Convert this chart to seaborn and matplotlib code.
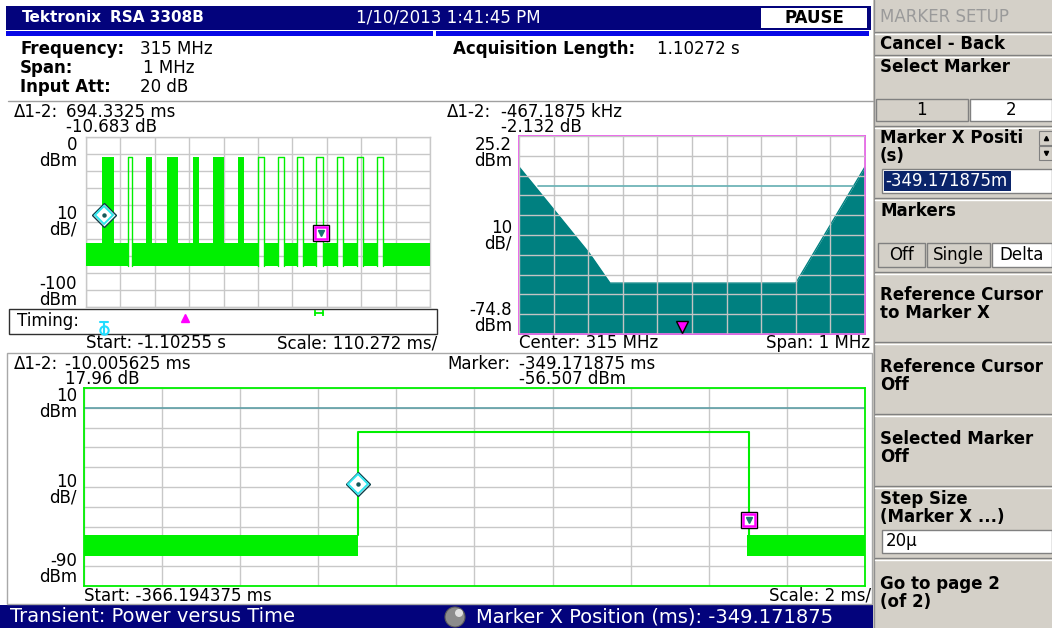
import numpy as np
import pandas as pd
import matplotlib
matplotlib.use("Agg")
import matplotlib.pyplot as plt
import seaborn as sns
from matplotlib.patches import Rectangle, Circle

# ---------------- data ----------------
# Overview (top-left): time in ms, level in dBm
ov_start_ms = -1102.55
ov_scale_ms = 110.272
ov_top_dbm, ov_bottom_dbm = 0, -100
solid_burst_start = [-1052.2, -909.8, -841.3, -761.0, -696.8, -616.5]
solid_burst_end = [-1012.6, -889.5, -808.1, -739.6, -661.5, -596.1]
open_burst_start = [-968.7, -551.2, -486.9, -426.0, -363.9, -297.5, -233.2, -169.0]
open_burst_end = [-953.7, -533.0, -468.8, -406.7, -342.4, -279.3, -214.0, -150.8]
burst_level = -11.7
noise_top = -62.3
noise_floor = -75.8
ov_marker1 = (-1043.5, -45.8)
ov_marker2 = (-349.17, -56.5)

# Spectrum (top-right): offset from 315 MHz in kHz
spec_freq_khz = [-500, -396, -297, -237, 300, 400, 500]
spec_dbm = [9.6, -12.7, -34.0, -49.1, -49.1, -19.7, 9.6]
spec_ref_khz = [-444, 465]
spec_ref_dbm = 0
spec_top, spec_bottom = 25.2, -74.8
spec_marker = (-30, -71.5)

# Power versus time (bottom)
pvt_start_ms = -366.194375
pvt_scale_ms = 2.0
pvt_top, pvt_bottom = 10, -90
pvt_edge_ms = [-359.177, -349.172]
pvt_high = -12.4
pvt_noise_top = -64.0
pvt_noise_floor = -75.0
pvt_ref_dbm = 0
pvt_marker1 = (-359.177, -38.55)
pvt_marker2 = (-349.172, -56.507)

# ---------------- styling ----------------
sns.set_theme(style="white")
plt.rcParams["font.family"] = ["DejaVu Sans"]
W, H = 1052, 628
NAVY = "#03037c"
GREEN = "#00f000"
TEAL = "#008080"
REF = "#5f9fa6"
GRID = "#c8c8c8"
MAG = "#ff00ff"
PANEL = "#d4d0c8"
FS = 12

fig = plt.figure(figsize=(W / 100, H / 100), dpi=100)
fig.patch.set_facecolor("white")
bg = fig.add_axes([0, 0, 1, 1])
bg.set_xlim(0, W)
bg.set_ylim(H, 0)
bg.axis("off")


def rect(x0, y0, x1, y1, fc, ec="none", lw=0.0, z=1):
    bg.add_patch(Rectangle((x0, y0), x1 - x0, y1 - y0, fc=fc, ec=ec, lw=lw, zorder=z))


def txt(x, y, s, ha="left", color="black", size=FS, weight="normal", z=5, ls=0.85):
    bg.text(x, y, s, ha=ha, va="center", color=color, fontsize=size,
            fontweight=weight, zorder=z, linespacing=ls, multialignment=ha)


def data_ax(x0, y0, x1, y1, xlim, ylim, spine_color, spine_lw=1.0):
    ax = fig.add_axes([x0 / W, 1 - y1 / H, (x1 - x0) / W, (y1 - y0) / H])
    ax.set_facecolor("white")
    ax.set_xlim(*xlim)
    ax.set_ylim(*ylim)
    ax.set_xticks(np.linspace(xlim[0], xlim[1], 11))
    ax.set_yticks(np.linspace(ylim[0], ylim[1], 11))
    ax.tick_params(length=0, labelbottom=False, labelleft=False)
    ax.grid(True, color=GRID, lw=1.0, zorder=0)
    ax.set_axisbelow(True)
    for sp in ax.spines.values():
        sp.set_color(spine_color)
        sp.set_linewidth(spine_lw)
    ax.set_xlabel("")
    ax.set_ylabel("")
    return ax


def diamond(ax, x, y, size=12):
    ax.plot([x], [y], marker="D", ms=size, mfc="white", mec="#0d3f48", mew=1.0, zorder=10, clip_on=False)
    ax.plot([x], [y], marker="D", ms=size - 2.5, mfc="none", mec="#2ee6ee", mew=1.4, zorder=11, clip_on=False)
    ax.plot([x], [y], marker="o", ms=2.2, color="#145a5a", zorder=12, clip_on=False)


def square(ax, x, y, size=11.5):
    ax.plot([x], [y], marker="s", ms=size, mfc="white", mec="black", mew=1.0, zorder=10, clip_on=False)
    ax.plot([x], [y], marker="s", ms=size - 2.4, mfc="none", mec=MAG, mew=1.8, zorder=11, clip_on=False)
    ax.plot([x], [y], marker="v", ms=4, color="#1a7474", zorder=12, clip_on=False)


# ---------------- chrome ----------------
rect(6, 6, 871, 30, NAVY)
rect(6, 31, 433, 36, "#0808e6")
rect(436, 31, 869, 36, "#0808e6")
rect(761, 8, 867, 28, "white", z=2)
txt(22, 18, "Tektronix", color="white", size=11, weight="bold")
txt(110, 18, "RSA 3308B", color="white", size=11, weight="bold")
txt(448, 18, "1/10/2013 1:41:45 PM", ha="center", color="white")
txt(814, 18, "PAUSE", ha="center", size=12, weight="bold")

txt(20, 49, "Frequency:", weight="bold")
txt(140, 49, "315 MHz")
txt(20, 68, "Span:", weight="bold")
txt(143, 68, "1 MHz")
txt(20, 87, "Input Att:", weight="bold")
txt(140, 87, "20 dB")
txt(453, 49, "Acquisition Length:", weight="bold")
txt(657, 49, "1.10272 s")

bg.plot([8, 873], [101, 101], color="#a0a0a0", lw=1, zorder=2)
rect(7, 353, 872, 604, "none", ec="#a8a8a8", lw=1, z=2)

# bottom status bar
rect(0, 605, 873, 628, NAVY)
txt(10, 617, "Transient: Power versus Time", color="white", size=14)
bg.add_patch(Circle((455, 617), 10, fc="#8c8c8c", ec="#5a5a5a", lw=0.8, zorder=3))
bg.add_patch(Circle((459, 613), 4, fc="#e0e0e0", ec="none", zorder=4))
txt(476, 617, "Marker X Position (ms): -349.171875", color="white", size=14)

# ---------------- right panel ----------------
rect(873, 0, 1052, 628, PANEL, z=1)
bg.plot([874, 874], [0, 628], color="#909090", lw=1, zorder=2)
txt(880, 17, "MARKER SETUP", color="#9a9a9a")
for ys in [32, 55, 126, 198, 272, 342, 414, 486, 558]:
    bg.plot([875, 1052], [ys, ys], color="#808080", lw=1, zorder=3)
    bg.plot([875, 1052], [ys + 1.5, ys + 1.5], color="white", lw=1, zorder=3)
txt(880, 44, "Cancel - Back", weight="bold")
txt(880, 67, "Select Marker", weight="bold")
rect(876, 99, 968, 121, PANEL, ec="#808080", lw=1, z=3)
rect(970, 99, 1052, 121, "white", ec="#808080", lw=1, z=3)
txt(921, 110, "1", ha="center")
txt(1011, 110, "2", ha="center")
txt(880, 147, "Marker X Positi\n(s)", weight="bold", ls=1.0)
rect(1039, 131, 1052, 145, PANEL, ec="#808080", lw=0.8, z=6)
rect(1039, 146, 1052, 160, PANEL, ec="#808080", lw=0.8, z=6)
bg.plot([1045.5], [138], marker="^", ms=3, color="black", zorder=7)
bg.plot([1045.5], [153], marker="v", ms=3, color="black", zorder=7)
rect(882, 169, 1052, 193, "white", ec="#808080", lw=1, z=3)
rect(884, 171, 1011, 191, "#0a246a", z=4)
txt(885, 181, "-349.171875m", color="white")
txt(880, 211, "Markers", weight="bold")
rect(878, 243, 925, 267, PANEL, ec="#808080", lw=1, z=3)
rect(927, 243, 990, 267, PANEL, ec="#808080", lw=1, z=3)
rect(992, 243, 1052, 267, "white", ec="#808080", lw=1, z=3)
txt(901, 255, "Off", ha="center")
txt(958, 255, "Single", ha="center")
txt(1022, 255, "Delta", ha="center")
txt(880, 304, "Reference Cursor\nto Marker X", weight="bold", ls=1.0)
txt(880, 376, "Reference Cursor\nOff", weight="bold", ls=1.0)
txt(880, 448, "Selected Marker\nOff", weight="bold", ls=1.0)
txt(880, 508, "Step Size\n(Marker X ...)", weight="bold", ls=1.0)
rect(882, 530, 1052, 553, "white", ec="#808080", lw=1, z=3)
txt(886, 541, "20\u03bc")
txt(880, 593, "Go to page 2\n(of 2)", weight="bold", ls=1.0)

# ---------------- overview (top-left) ----------------
ov_end_ms = ov_start_ms + 10 * ov_scale_ms
ax1 = data_ax(86, 137, 430, 307, (ov_start_ms, ov_end_ms), (ov_bottom_dbm, ov_top_dbm), GRID)
seg_starts = [ov_start_ms] + open_burst_end
seg_ends = open_burst_start + [ov_end_ms]
for a, b in zip(seg_starts, seg_ends):
    ax1.fill_between([a, b], [noise_floor] * 2, [noise_top] * 2, color=GREEN, lw=0, zorder=3)
for a, b in zip(solid_burst_start, solid_burst_end):
    ax1.fill_between([a, b], [noise_floor] * 2, [burst_level] * 2, color=GREEN, lw=0, zorder=3)
for a, b in zip(open_burst_start, open_burst_end):
    df = pd.DataFrame({"t": [a, a, b, b], "p": [noise_floor, burst_level, burst_level, noise_floor]})
    sns.lineplot(data=df, x="t", y="p", ax=ax1, sort=False, estimator=None, color=GREEN, lw=1.0, zorder=4)
ax1.set_xlabel("")
ax1.set_ylabel("")
diamond(ax1, *ov_marker1, size=12)
square(ax1, *ov_marker2, size=11.5)

txt(14, 112, "\u03941-2:")
txt(66, 119.5, "694.3325 ms\n-10.683 dB")
txt(77, 153, "0\ndBm", ha="right")
txt(77, 222, "10\ndB/", ha="right")
txt(77, 292, "-100\ndBm", ha="right")

rect(9, 309, 437, 334, "white", ec="#303030", lw=1, z=2)
txt(17, 321, "Timing:")
bg.plot([100, 108], [322, 322], color="#22ddff", lw=1.5, zorder=5)
bg.plot([104, 104], [322, 334], color="#22ddff", lw=1.5, zorder=5)
bg.plot([104], [330], marker="o", ms=6, mfc="none", mec="#22ddff", mew=1.5, zorder=5)
bg.plot([185], [318], marker="^", ms=6, color=MAG, zorder=5)
bg.plot([315, 323], [313, 313], color=GREEN, lw=1.3, marker="|", ms=5, mew=1.3, zorder=5)
txt(86, 343, "Start: -1.10255 s")
txt(437, 343, "Scale: 110.272 ms/", ha="right")

# ---------------- spectrum (top-right) ----------------
ax2 = data_ax(519, 136, 865, 334, (-500, 500), (spec_bottom, spec_top), "#e860e8", 1.3)
ax2.fill_between(spec_freq_khz, [spec_bottom] * len(spec_dbm), spec_dbm, color=TEAL, lw=0, zorder=1)
sdf = pd.DataFrame({"f": spec_freq_khz, "p": spec_dbm})
sns.lineplot(data=sdf, x="f", y="p", ax=ax2, sort=False, estimator=None, color=TEAL, lw=1, zorder=1.5)
ax2.set_axisbelow(False)
ax2.xaxis.set_zorder(3)
ax2.yaxis.set_zorder(3)
ax2.grid(True, color="#c4c4c4", lw=1.0)
ax2.plot(spec_ref_khz, [spec_ref_dbm] * 2, color="#6fb4b8", lw=1.3, zorder=6)
ax2.plot([spec_marker[0]], [spec_marker[1]], marker="v", ms=8, mfc=MAG, mec="black", mew=1, zorder=7)
ax2.set_xlabel("")
ax2.set_ylabel("")

txt(447, 112, "\u03941-2:")
txt(501, 119.5, "-467.1875 kHz\n-2.132 dB")
txt(512, 153, "25.2\ndBm", ha="right")
txt(512, 236, "10\ndB/", ha="right")
txt(512, 318, "-74.8\ndBm", ha="right")
txt(519, 343, "Center: 315 MHz")
txt(870, 343, "Span: 1 MHz", ha="right")

# ---------------- power vs time (bottom) ----------------
pvt_end_ms = pvt_start_ms + 10 * pvt_scale_ms
ax3 = data_ax(84, 388, 865, 586, (pvt_start_ms, pvt_end_ms), (pvt_bottom, pvt_top), GREEN, 1.3)
ax3.plot([pvt_start_ms, pvt_end_ms], [pvt_ref_dbm] * 2, color=REF, lw=1.2, zorder=2)
ax3.fill_between([pvt_start_ms, pvt_edge_ms[0]], [pvt_noise_floor] * 2, [pvt_noise_top] * 2,
                 color=GREEN, lw=0, zorder=3)
ax3.fill_between([pvt_edge_ms[1] - 0.05, pvt_end_ms], [pvt_noise_floor] * 2, [pvt_noise_top] * 2,
                 color=GREEN, lw=0, zorder=3)
pdf = pd.DataFrame({"t": [pvt_edge_ms[0], pvt_edge_ms[0], pvt_edge_ms[1], pvt_edge_ms[1]],
                    "p": [pvt_noise_top, pvt_high, pvt_high, pvt_noise_top]})
sns.lineplot(data=pdf, x="t", y="p", ax=ax3, sort=False, estimator=None, color=GREEN, lw=1.5, zorder=4)
ax3.set_xlabel("")
ax3.set_ylabel("")
diamond(ax3, *pvt_marker1, size=12.5)
square(ax3, *pvt_marker2, size=11.5)

txt(14, 364, "\u03941-2:")
txt(65, 371.5, "-10.005625 ms\n17.96 dB")
txt(447, 364, "Marker:")
txt(519, 371.5, "-349.171875 ms\n-56.507 dBm")
txt(77, 404, "10\ndBm", ha="right")
txt(77, 490, "10\ndB/", ha="right")
txt(77, 569, "-90\ndBm", ha="right")
txt(84, 596, "Start: -366.194375 ms")
txt(871, 596, "Scale: 2 ms/", ha="right")

fig.savefig("out.png", dpi=100, facecolor="white")
